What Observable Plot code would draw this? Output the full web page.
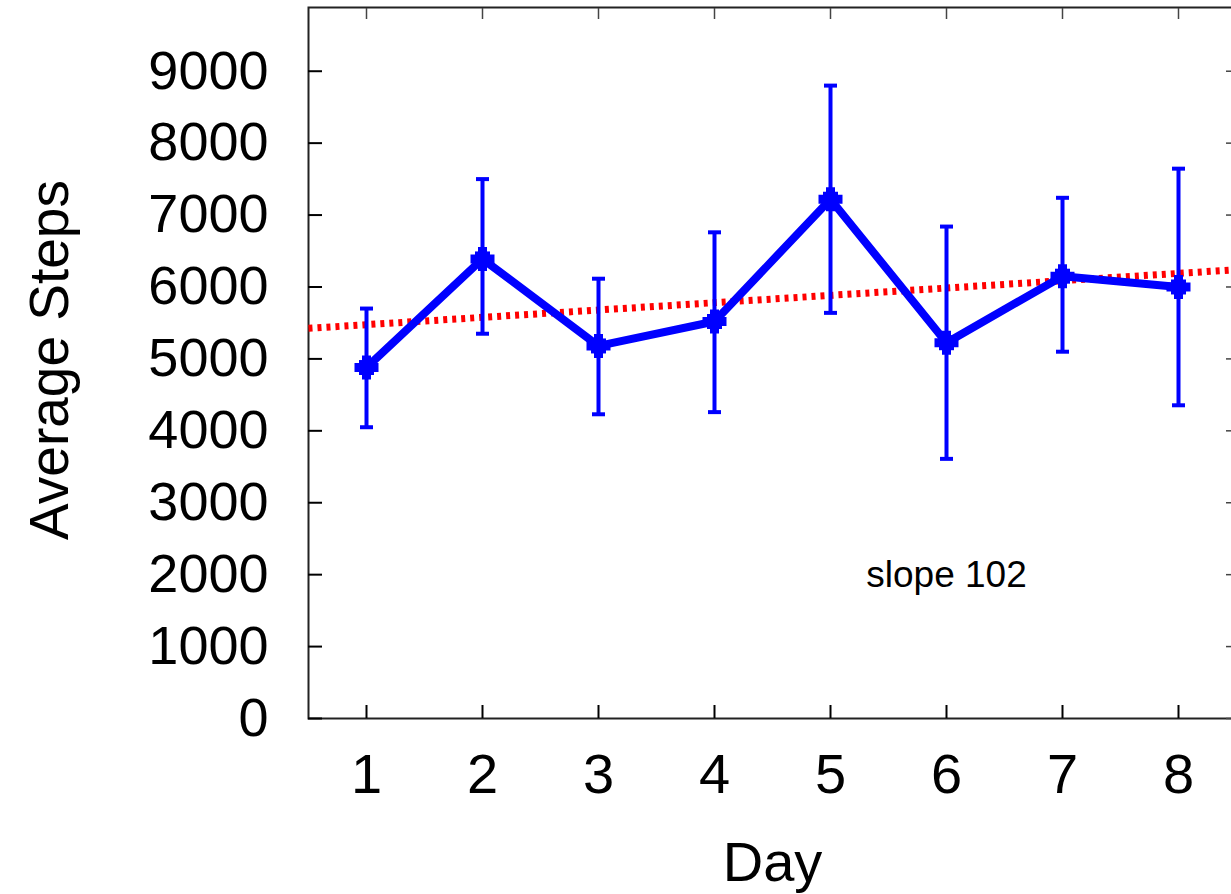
<!DOCTYPE html>
<html><head><meta charset="utf-8">
<script src="https://cdn.jsdelivr.net/npm/d3@7"></script>
<script src="https://cdn.jsdelivr.net/npm/@observablehq/plot@0.6"></script>
<style>
html,body{margin:0;padding:0;background:#fff;overflow:hidden;}
#chart{width:1231px;height:894px;overflow:hidden;}
#chart svg{max-width:none !important;}
</style>
</head><body><div id="chart"></div>
<script>
// ---- data ----
const days = [1, 2, 3, 4, 5, 6, 7, 8];
const meanSteps = [4880, 6390, 5180, 5520, 7220, 5225, 6150, 6000];
const lowSteps  = [4050, 5350, 4230, 4260, 5640, 3610, 5100, 4355];
const highSteps = [5700, 7500, 6115, 6760, 8800, 6840, 7240, 7645];
const trendDays  = [0.5, 8.5];
const trendSteps = [5425, 6240];
const yTicks = [0, 1000, 2000, 3000, 4000, 5000, 6000, 7000, 8000, 9000];
const xTicks = [1, 2, 3, 4, 5, 6, 7, 8];
const noteText = ["slope 102"];
const noteDay = [6];
const noteSteps = [1835];
const xLabel = "Day";
const yLabel = "Average Steps";

// ---- tables built from the arrays ----
const rows = days.map((d, i) => ({day: d, mean: meanSteps[i], low: lowSteps[i], high: highSteps[i]}));
const trend = trendDays.map((d, i) => ({day: d, steps: trendSteps[i]}));
const notes = noteText.map((t, i) => ({text: t, day: noteDay[i], steps: noteSteps[i]}));

const BLUE = "#0000ff";
const capSymbol = {draw(ctx) { ctx.moveTo(-6.5, 0); ctx.lineTo(6.5, 0); }};
const plusSymbol = {draw(ctx) { ctx.moveTo(-12, 0); ctx.lineTo(12, 0); ctx.moveTo(0, -12); ctx.lineTo(0, 12); }};
const squareSymbol = {draw(ctx) { ctx.rect(-7.5, -7.5, 15, 15); }};

const chart = Plot.plot({
  width: 1240,
  height: 894,
  marginLeft: 308,
  marginRight: 4,
  marginTop: 7,
  marginBottom: 176,
  style: {fontFamily: "'Liberation Sans', Arial, Helvetica, sans-serif", background: "#fff", color: "#000", overflow: "hidden", maxWidth: "none"},
  x: {domain: [0.5, 8.5]},
  y: {domain: [0, 9886]},
  marks: [
    Plot.frame({stroke: "#222", strokeWidth: 2}),
    Plot.line(trend, {x: "day", y: "steps", stroke: "#ff0000", strokeWidth: 7, strokeDasharray: "4,5", strokeLinecap: "butt"}),
    Plot.ruleX(rows, {x: "day", y1: "low", y2: "high", stroke: BLUE, strokeWidth: 4}),
    Plot.dot(rows, {x: "day", y: "low", symbol: capSymbol, fill: "none", stroke: BLUE, strokeWidth: 4}),
    Plot.dot(rows, {x: "day", y: "high", symbol: capSymbol, fill: "none", stroke: BLUE, strokeWidth: 4}),
    Plot.line(rows, {x: "day", y: "mean", stroke: BLUE, strokeWidth: 8, strokeLinejoin: "round"}),
    Plot.dot(rows, {x: "day", y: "mean", symbol: plusSymbol, fill: "none", stroke: BLUE, strokeWidth: 9, strokeLinecap: "butt"}),
    Plot.dot(rows, {x: "day", y: "mean", symbol: squareSymbol, fill: BLUE, stroke: "none"}),
    Plot.text(notes, {x: "day", y: "steps", text: "text", fontSize: 37, lineAnchor: "bottom", fill: "#000"}),
    Plot.axisY({ticks: yTicks, anchor: "left", tickSize: -14, tickPadding: 54, fontSize: 54, strokeWidth: 2, label: null, tickFormat: d3.format("d")}),
    Plot.axisY({ticks: yTicks, anchor: "right", tickSize: -11, stroke: "#444", strokeWidth: 1.5, label: null, tickFormat: () => ""}),
    Plot.axisX({ticks: xTicks, anchor: "bottom", tickSize: -13, tickPadding: 48, fontSize: 56, strokeWidth: 2, label: null, tickFormat: d3.format("d")}),
    Plot.axisX({ticks: xTicks, anchor: "top", tickSize: -11, stroke: "#444", strokeWidth: 1.5, label: null, tickFormat: () => ""}),
    Plot.text([xLabel], {text: d => d, frameAnchor: "bottom", lineAnchor: "bottom", dy: 162, fontSize: 56, fill: "#000"}),
    Plot.text([yLabel], {text: d => d, frameAnchor: "left", textAnchor: "middle", lineAnchor: "bottom", rotate: -90, dx: -241, dy: -3, fontSize: 55, fill: "#000", ariaLabel: "ylabel"})
  ]
});

// the y label in the reference is stretched across its glyph height
d3.select(chart).selectAll('g[aria-label="ylabel"] text').each(function() {
  const t = this.getAttribute("transform") || "";
  this.setAttribute("transform", t + " scale(1,1.32)");
});
chart.style.maxWidth = "none";

document.getElementById("chart").appendChild(chart);
</script>
</body></html>
